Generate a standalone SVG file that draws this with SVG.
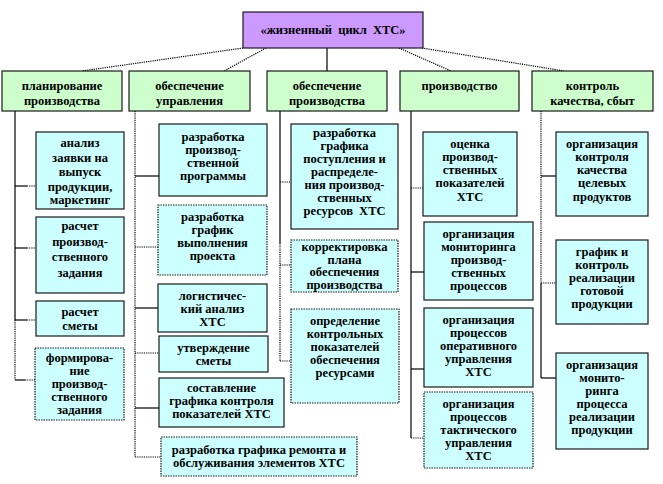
<svg xmlns="http://www.w3.org/2000/svg" width="663" height="484" viewBox="0 0 663 484">
<style>
text{font-family:"Liberation Serif","Times New Roman",serif;font-weight:bold;font-size:12.5px;fill:#000;text-anchor:middle}
.top{fill:#cc99ff;stroke:#1a1a1a;stroke-width:1.2}
.l1{fill:#ccffcc;stroke:#1a1a1a;stroke-width:1.2}
.ch{fill:#ccffff;stroke:#1a1a1a;stroke-width:1.2}
.chd{fill:#ccffff;stroke:#1a1a1a;stroke-width:1.2;stroke-dasharray:1.5 1}
.s{stroke:#000;stroke-width:1.2;fill:none}
.d{stroke:#000;stroke-width:1.2;fill:none;stroke-dasharray:1.2 1}
</style>
<rect width="663" height="484" fill="#fff"/>
<g id="connectors">
<line class="d" x1="243" y1="48" x2="82" y2="71"/>
<line class="d" x1="266" y1="48" x2="224" y2="71"/>
<line class="s" x1="327" y1="48" x2="327" y2="71"/>
<line class="d" x1="399" y1="48" x2="451" y2="71"/>
<line class="d" x1="422" y1="48" x2="564" y2="71"/>
<line class="s" x1="15" y1="111" x2="15" y2="320"/>
<line class="d" x1="15" y1="320" x2="15" y2="380"/>
<line class="s" x1="15" y1="186" x2="27" y2="186"/><line class="d" x1="27" y1="186" x2="36" y2="186"/>
<line class="s" x1="15" y1="248" x2="27" y2="248"/><line class="d" x1="27" y1="248" x2="36" y2="248"/>
<line class="s" x1="15" y1="320" x2="27" y2="320"/><line class="d" x1="27" y1="320" x2="36" y2="320"/>
<line class="s" x1="15" y1="380" x2="25" y2="380"/><line class="d" x1="25" y1="380" x2="35" y2="380"/>
<line class="d" x1="135" y1="111" x2="135" y2="457"/>
<line class="s" x1="135" y1="176" x2="159" y2="176"/>
<line class="d" x1="135" y1="247" x2="158" y2="247"/>
<line class="s" x1="135" y1="308" x2="158" y2="308"/>
<line class="d" x1="135" y1="353" x2="159" y2="353"/>
<line class="s" x1="135" y1="408" x2="159" y2="408"/>
<line class="d" x1="135" y1="457" x2="161" y2="457"/>
<line class="s" x1="280" y1="111" x2="280" y2="243"/>
<line class="d" x1="280" y1="243" x2="280" y2="361"/>
<line class="d" x1="280" y1="182" x2="291" y2="182"/>
<line class="d" x1="280" y1="265" x2="291" y2="265"/>
<line class="d" x1="280" y1="361" x2="291" y2="361"/>
<line class="s" x1="411" y1="111" x2="411" y2="438"/>
<line class="d" x1="411" y1="188" x2="423" y2="188"/>
<line class="s" x1="411" y1="272" x2="424" y2="272"/>
<line class="s" x1="411" y1="369" x2="424" y2="369"/>
<line class="d" x1="411" y1="438" x2="424" y2="438"/>
<line class="d" x1="541" y1="111" x2="541" y2="283"/>
<line class="s" x1="541" y1="283" x2="541" y2="378"/>
<line class="s" x1="541" y1="176" x2="556" y2="176"/>
<line class="d" x1="541" y1="283" x2="556" y2="283"/>
<line class="s" x1="541" y1="378" x2="556" y2="378"/>
</g>
<g id="root"><rect class="top" x="243" y="12" width="180" height="36"/><text x="333" y="34" font-size="13" word-spacing="3">«жизненный цикл ХТС»</text></g>
<g id="n1"><rect class="l1" x="2" y="71" width="120" height="40"/><text x="62" y="90">планирование</text><text x="62" y="105">производства</text></g>
<g id="n2"><rect class="l1" x="129" y="71" width="121" height="40"/><text x="189.5" y="90">обеспечение</text><text x="189.5" y="105">управления</text></g>
<g id="n3"><rect class="l1" x="267" y="71" width="120" height="40"/><text x="327" y="90">обеспечение</text><text x="327" y="105">производства</text></g>
<g id="n4"><rect class="l1" x="400" y="71" width="119" height="40"/><text x="459.5" y="90">производство</text></g>
<g id="n5"><rect class="l1" x="532" y="71" width="121" height="40"/><text x="592.5" y="90">контроль</text><text x="592.5" y="105">качества, сбыт</text></g>
<g id="a"><rect class="ch" x="36" y="132" width="88" height="77"/><text x="80" y="147">анализ</text><text x="80" y="161.5">заявки на</text><text x="80" y="176">выпуск</text><text x="80" y="190.5">продукции,</text><text x="80" y="204">маркетинг</text></g>
<g id="b"><rect class="ch" x="36" y="217" width="88" height="76"/><text x="80" y="230">расчет</text><text x="80" y="245.5">производ-</text><text x="80" y="261">ственного</text><text x="80" y="276.5">задания</text></g>
<g id="c"><rect class="ch" x="36" y="301" width="88" height="35"/><text x="80" y="316">расчет</text><text x="80" y="330">сметы</text></g>
<g id="d"><rect class="chd" x="35" y="348" width="89" height="72"/><text x="79.5" y="362">формирова-</text><text x="79.5" y="375">ние</text><text x="79.5" y="388">производ-</text><text x="79.5" y="401">ственного</text><text x="79.5" y="414">задания</text></g>
<g id="e"><rect class="ch" x="159" y="124" width="108" height="72"/><text x="213" y="141">разработка</text><text x="213" y="154">производ-</text><text x="213" y="167">ственной</text><text x="213" y="180">программы</text></g>
<g id="f"><rect class="chd" x="158" y="205" width="109" height="70"/><text x="212.5" y="221">разработка</text><text x="212.5" y="234">график</text><text x="212.5" y="247">выполнения</text><text x="212.5" y="260">проекта</text></g>
<g id="g"><rect class="ch" x="158" y="284" width="109" height="48"/><text x="212.5" y="300">логистичес-</text><text x="212.5" y="313">кий анализ</text><text x="212.5" y="326">ХТС</text></g>
<g id="h"><rect class="ch" x="159" y="336" width="109" height="36"/><text x="213.5" y="352">утверждение</text><text x="213.5" y="365">сметы</text></g>
<g id="i"><rect class="ch" x="159" y="378" width="125" height="49"/><text x="221.5" y="392">составление</text><text x="221.5" y="405">графика контроля</text><text x="221.5" y="418">показателей ХТС</text></g>
<g id="j"><rect class="chd" x="161" y="437" width="196" height="39"/><text x="259" y="454">разработка графика ремонта и</text><text x="259" y="467">обслуживания элементов ХТС</text></g>
<g id="k"><rect class="ch" x="291" y="124" width="107" height="105"/><text x="344.5" y="137">разработка</text><text x="344.5" y="150">графика</text><text x="344.5" y="163">поступления и</text><text x="344.5" y="176">распределе-</text><text x="344.5" y="189">ния производ-</text><text x="344.5" y="202">ственных</text><text x="344.5" y="215" word-spacing="3">ресурсов ХТС</text></g>
<g id="l"><rect class="chd" x="291" y="240" width="107" height="52"/><text x="344.5" y="251" font-size="11.5">корректировка</text><text x="344.5" y="263.5" font-size="11.5">плана</text><text x="344.5" y="276" font-size="11.5">обеспечения</text><text x="344.5" y="288.5" font-size="11.5">производства</text></g>
<g id="m"><rect class="chd" x="291" y="309" width="108" height="94"/><text x="345" y="325">определение</text><text x="345" y="338">контрольных</text><text x="345" y="351">показателей</text><text x="345" y="364">обеспечения</text><text x="345" y="377">ресурсами</text></g>
<g id="nn"><rect class="ch" x="423" y="132" width="94" height="84"/><text x="470" y="148">оценка</text><text x="470" y="161">производ-</text><text x="470" y="174">ственных</text><text x="470" y="187">показателей</text><text x="470" y="201">ХТС</text></g>
<g id="o"><rect class="ch" x="424" y="222" width="109" height="78"/><text x="478.5" y="238">организация</text><text x="478.5" y="251">мониторинга</text><text x="478.5" y="264">производ-</text><text x="478.5" y="277">ственных</text><text x="478.5" y="290">процессов</text></g>
<g id="p"><rect class="ch" x="424" y="308" width="109" height="79"/><text x="478.5" y="324">организация</text><text x="478.5" y="337">процессов</text><text x="478.5" y="350">оперативного</text><text x="478.5" y="363">управления</text><text x="478.5" y="376">ХТС</text></g>
<g id="q"><rect class="chd" x="424" y="392" width="109" height="76"/><text x="478.5" y="408">организация</text><text x="478.5" y="421">процессов</text><text x="478.5" y="434">тактического</text><text x="478.5" y="447">управления</text><text x="478.5" y="460">ХТС</text></g>
<g id="r"><rect class="ch" x="556" y="132" width="92" height="84"/><text x="602" y="148">организация</text><text x="602" y="161">контроля</text><text x="602" y="174">качества</text><text x="602" y="187">целевых</text><text x="602" y="201">продуктов</text></g>
<g id="s2"><rect class="ch" x="556" y="240" width="92" height="84"/><text x="602" y="256">график и</text><text x="602" y="269">контроль</text><text x="602" y="282">реализации</text><text x="602" y="295">готовой</text><text x="602" y="308">продукции</text></g>
<g id="t"><rect class="ch" x="556" y="353" width="92" height="96"/><text x="602" y="369">организация</text><text x="602" y="382">монито-</text><text x="602" y="395">ринга</text><text x="602" y="408">процесса</text><text x="602" y="421">реализации</text><text x="602" y="434">продукции</text></g>
</svg>
